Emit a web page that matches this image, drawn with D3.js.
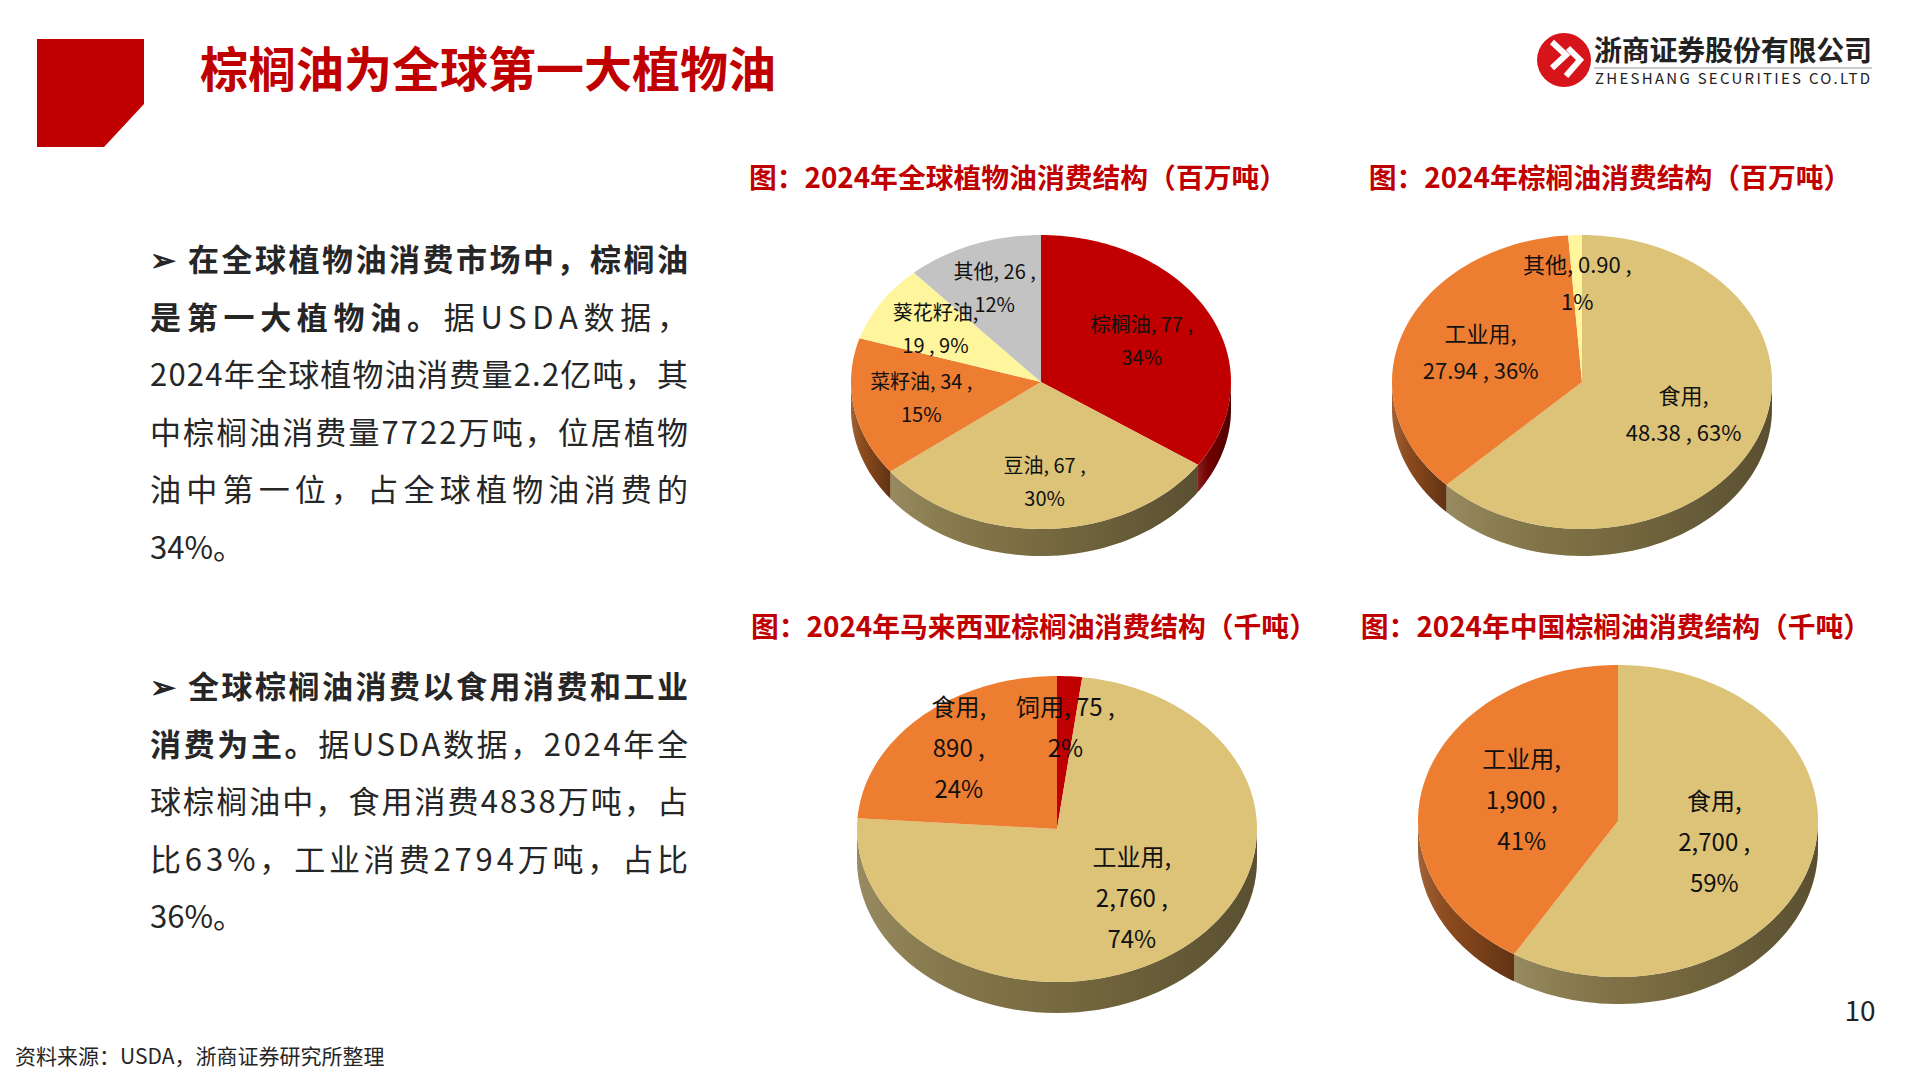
<!DOCTYPE html>
<html><head><meta charset="utf-8">
<script src="https://cdn.jsdelivr.net/npm/d3@7"></script>
<style>body{margin:0;background:#fff}svg{display:block}text{font-family:"Noto Sans CJK SC","Noto Sans",sans-serif}</style>
</head><body><svg id="c" width="1920" height="1080"></svg>
<script>
// ---- data ----
const pie1Cats = ["棕榈油","豆油","菜籽油","葵花籽油","其他"];
const pie1Vals = [77,67,34,19,26];
const pie1ValTxt = ["77","67","34","19","26"];
const pie1Pct = ["34%","30%","15%","9%","12%"];
const pie2Cats = ["食用","工业用","其他"];
const pie2Vals = [48.38,27.94,0.90];
const pie2ValTxt = ["48.38","27.94","0.90"];
const pie2Pct = ["63%","36%","1%"];
const pie3Cats = ["饲用","工业用","食用"];
const pie3Vals = [75,2760,890];
const pie3ValTxt = ["75","2,760","890"];
const pie3Pct = ["2%","74%","24%"];
const pie4Cats = ["食用","工业用"];
const pie4Vals = [2700,1900];
const pie4ValTxt = ["2,700","1,900"];
const pie4Pct = ["59%","41%"];
const chartTitles = ["图：2024年全球植物油消费结构（百万吨）","图：2024年棕榈油消费结构（百万吨）","图：2024年马来西亚棕榈油消费结构（千吨）","图：2024年中国棕榈油消费结构（千吨）"];

const RED="#C00000",TAN="#DCC378",ORA="#ED7D31",YEL="#FFF59D",GRY="#C3C3C3";
const svg = d3.select("#c");
const defs = svg.append("defs");
const g = defs.append("linearGradient").attr("id","shade").attr("x1","0").attr("x2","1").attr("y1","0").attr("y2","0");
g.append("stop").attr("offset","0").attr("stop-color","#fff").attr("stop-opacity",0.12);
g.append("stop").attr("offset","0.35").attr("stop-color","#000").attr("stop-opacity",0.08);
g.append("stop").attr("offset","1").attr("stop-color","#000").attr("stop-opacity",0.35);

// header
svg.append("path").attr("d","M37,39H144V104L104,147H37Z").attr("fill","#C00000");
svg.append("text").attr("x",200).attr("y",87).attr("font-size",48).attr("font-weight",700).attr("fill","#C00000").text("棕榈油为全球第一大植物油");
// logo
svg.append("circle").attr("cx",1564).attr("cy",60).attr("r",27).attr("fill","#D7141A");
svg.append("path").attr("d","M1552,42 L1566,55 L1552,68 M1568,48 L1580,60 L1566,76").attr("stroke","#fff").attr("stroke-width",6).attr("fill","none");
svg.append("text").attr("x",1594).attr("y",61).attr("font-size",28).attr("font-weight",700).attr("fill","#222").attr("textLength",278).text("浙商证券股份有限公司");
svg.append("line").attr("x1",1594).attr("x2",1872).attr("y1",68).attr("y2",68).attr("stroke","#999").attr("stroke-width",1);
svg.append("text").attr("x",1595).attr("y",84).attr("font-size",15).attr("font-family","Liberation Serif").attr("fill","#222").attr("textLength",275).text("ZHESHANG SECURITIES CO.LTD");

// body text
const block1 = [[["➢ 在全球植物油消费市场中，棕榈油",1]],[["是第一大植物油。",1],["据USDA数据，",0]],[["2024年全球植物油消费量2.2亿吨，其",0]],[["中棕榈油消费量7722万吨，位居植物",0]],[["油中第一位，占全球植物油消费的",0]],[["34%。",0]]];
const block2 = [[["➢ 全球棕榈油消费以食用消费和工业",1]],[["消费为主。",1],["据USDA数据，2024年全",0]],[["球棕榈油中，食用消费4838万吨，占",0]],[["比63%，工业消费2794万吨，占比",0]],[["36%。",0]]];
function block(lines,y0){
  lines.forEach((ln,i)=>{
    const t=svg.append("text").attr("x",150).attr("y",y0+i*57.5).attr("dy","0.36em").attr("font-size",31).attr("fill","#262626");
    if(i<lines.length-1) t.attr("textLength",538).attr("lengthAdjust","spacing");
    ln.forEach(s=>t.append("tspan").attr("font-weight",s[1]?700:400).text(s[0]));
  });
}
block(block1,260); block(block2,687);
svg.append("text").attr("x",15).attr("y",1064).attr("font-size",21).attr("fill","#262626").text("资料来源：USDA，浙商证券研究所整理");
svg.append("text").attr("x",1860).attr("y",1021).attr("text-anchor","middle").attr("font-size",28).attr("fill","#222").text("10");

// chart titles
[[1018,178],[1610,178],[1034,627],[1616,627]].forEach((p,i)=>svg.append("text").attr("x",p[0]).attr("y",p[1]).attr("dy","0.36em").attr("text-anchor","middle").attr("font-size",27.8).attr("font-weight",700).attr("fill","#C00000").text(chartTitles[i]));

function pie3d(cfg){
  const {cats,vals,valTxt,pct,cols,cx,cy,rx,ry,depth,lr,fs,lh,lay}=cfg;
  const arcs=d3.pie().sort(null).value(d=>d)(vals);
  const pt=(a,r=1)=>[cx+rx*r*Math.sin(a),cy-ry*r*Math.cos(a)];
  const line=d3.line();
  const gp=svg.append("g");
  arcs.forEach((d,i)=>{
    const s=Math.max(d.startAngle,Math.PI/2),e=Math.min(d.endAngle,3*Math.PI/2);
    if(e<=s) return;
    const top=d3.range(0,61).map(k=>pt(s+(e-s)*k/60));
    const bot=top.slice().reverse().map(p=>[p[0],p[1]+depth]);
    gp.append("path").attr("d",line(top.concat(bot))+"Z").attr("fill",d3.color(cols[i]).darker(1.3));
    gp.append("path").attr("d",line(top.concat(bot))+"Z").attr("fill","url(#shade)");
  });
  arcs.forEach((d,i)=>{
    const n=Math.max(2,Math.ceil((d.endAngle-d.startAngle)*40));
    const pts=[[cx,cy]].concat(d3.range(0,n+1).map(k=>pt(d.startAngle+(d.endAngle-d.startAngle)*k/n)));
    gp.append("path").attr("d",line(pts)+"Z").attr("fill",cols[i]);
  });
  arcs.forEach((d,i)=>{
    const a=(d.startAngle+d.endAngle)/2;
    const p=pt(a,lr[i]);
    const c=cats[i],v=valTxt[i],q=pct[i];
    const lines=lay[i]===3?[c+",",v+" ,",q]:lay[i]===1?[c+",",v+" , "+q]:[c+", "+v+" ,",q];
    const t=gp.append("text").attr("text-anchor","middle").attr("font-size",fs).attr("fill","#111");
    lines.forEach((l,k)=>t.append("tspan").attr("x",p[0]).attr("y",p[1]+(k-(lines.length-1)/2)*lh).attr("dy","0.36em").text(l));
  });
}
pie3d({cats:pie1Cats,vals:pie1Vals,valTxt:pie1ValTxt,pct:pie1Pct,cols:[RED,TAN,ORA,YEL,GRY],cx:1041,cy:382,rx:190,ry:147,depth:27,lr:[0.6,0.68,0.64,0.66,0.68],fs:20,lh:33,lay:[0,0,0,1,0]});
pie3d({cats:pie2Cats,vals:pie2Vals,valTxt:pie2ValTxt,pct:pie2Pct,cols:[TAN,ORA,YEL],cx:1582,cy:382,rx:190,ry:147,depth:27,lr:[0.58,0.57,0.67],fs:22,lh:37,lay:[1,1,0]});
pie3d({cats:pie3Cats,vals:pie3Vals,valTxt:pie3ValTxt,pct:pie3Pct,cols:[RED,TAN,ORA],cx:1057,cy:829,rx:200,ry:153,depth:31,lr:[0.66,0.59,0.72],fs:24,lh:41,lay:[0,3,3]});
pie3d({cats:pie4Cats,vals:pie4Vals,valTxt:pie4ValTxt,pct:pie4Pct,cols:[TAN,ORA],cx:1618,cy:821,rx:200,ry:156,depth:27,lr:[0.5,0.5],fs:24,lh:41,lay:[3,3]});
</script></body></html>
